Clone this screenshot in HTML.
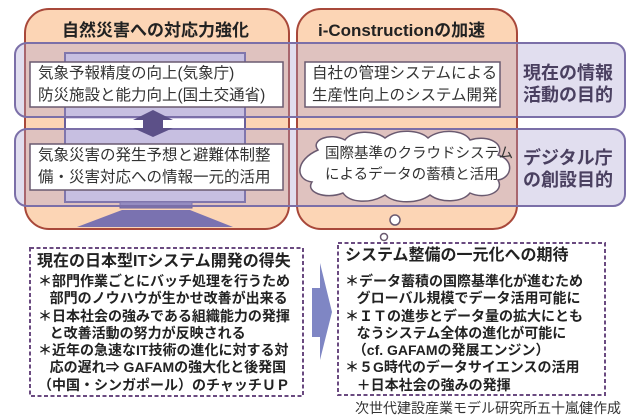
<!DOCTYPE html>
<html><head><meta charset="utf-8"><style>
body{margin:0;width:640px;height:419px;background:#fff;position:relative;overflow:hidden;font-family:"Liberation Sans","Noto Sans CJK JP",sans-serif;color:#222}
.a{position:absolute;white-space:nowrap}
.t{font-size:15.5px;line-height:22px;color:#333}
.d{font-size:14px;line-height:17.3px;font-weight:bold;color:#222}
.h{font-size:17px;font-weight:bold;color:#222}
.l{font-size:18px;line-height:22px;font-weight:bold;color:#4a4060}
</style></head><body>
<svg width="640" height="419" style="position:absolute;left:0;top:0">
<rect x="25" y="9" width="264" height="220" rx="24" fill="#fcd5b5" stroke="#a8483a" stroke-width="2"/>
<rect x="297" y="9" width="220" height="220" rx="24" fill="#fcd5b5" stroke="#a8483a" stroke-width="2"/>
<rect x="65" y="53" width="180" height="149" fill="#d7d0ea" stroke="#6a609a" stroke-width="2"/>
<rect x="120" y="202" width="72" height="6" fill="#8a82b8" stroke="#6a609a"/>
<polygon points="122,210 190,210 233,227 77,227" fill="#7a72b0"/>
<rect x="15" y="43" width="610" height="74" rx="12" fill="rgba(170,160,210,0.35)" stroke="#7b6fa8" stroke-width="2"/>
<rect x="15" y="129" width="610" height="77" rx="12" fill="rgba(170,160,210,0.35)" stroke="#7b6fa8" stroke-width="2"/>
<rect x="66" y="119" width="178" height="9" fill="#fff"/>
<polygon points="153,110 173,120 163,120 163,128 173,128 153,137 133,128 143,128 143,120 133,120" fill="#5c5088"/>
<rect x="30" y="62" width="253" height="45" fill="#fff" stroke="#6a5a70" stroke-width="1.5"/>
<rect x="30" y="144" width="253" height="46" fill="#fff" stroke="#6a5a70" stroke-width="1.5"/>
<rect x="305" y="62" width="195" height="45" fill="#fff" stroke="#6a5a70" stroke-width="1.5"/>
<path d="M318,150 C310,140 330,132 345,140 C352,130 375,130 385,138 C398,128 420,130 428,138 C440,128 465,130 470,140 C490,134 505,145 498,155 C515,160 512,178 498,180 C505,192 485,200 470,193 C462,203 440,203 430,195 C418,204 395,204 385,195 C370,204 350,203 343,193 C325,200 305,192 312,182 C295,180 295,160 318,150 Z" fill="#fff" stroke="#6a5a70" stroke-width="1.5"/>
<circle cx="395" cy="220" r="5" fill="#fff" stroke="#6a5a70" stroke-width="1.5"/>
<circle cx="384" cy="237" r="3.5" fill="#fff" stroke="#6a5a70" stroke-width="1.5"/>
<rect x="30" y="248" width="273" height="148" fill="#fff" stroke="#6a4a80" stroke-width="2" stroke-dasharray="4,2.5"/>
<rect x="338" y="243" width="267" height="152" fill="#fff" stroke="#6a4a80" stroke-width="2" stroke-dasharray="4,2.5"/>
<polygon points="312,288 320,288 320,263 332,312 320,360 320,337 312,337" fill="#7f86c4"/>
</svg>
<div class="a h" style="left:62px;top:16px">自然災害への対応力強化</div>
<div class="a h" style="left:318px;top:16px">i-Constructionの加速</div>
<div class="a t" style="left:38px;top:63px">気象予報精度の向上(気象庁)<br>防災施設と能力向上(国土交通省)</div>
<div class="a t" style="left:38px;top:145px">気象災害の発生予想と避難体制整<br>備・災害対応への情報一元的活用</div>
<div class="a t" style="left:312px;top:63px">自社の管理システムによる<br>生産性向上のシステム開発</div>
<div class="a t" style="left:325px;top:144px;font-size:14.5px;line-height:21px">国際基準のクラウドシステム<br>によるデータの蓄積と活用</div>
<div class="a l" style="left:523px;top:62px">現在の情報<br>活動の目的</div>
<div class="a l" style="left:523px;top:147px">デジタル庁<br>の創設目的</div>
<div class="a d" style="left:37px;top:253px;font-size:16px">現在の日本型ITシステム開発の得失</div>
<div class="a d" style="left:38px;top:273px">＊部門作業ごとにバッチ処理を行うため<br>&nbsp;&nbsp;&nbsp;部門のノウハウが生かせ改善が出来る<br>＊日本社会の強みである組織能力の発揮<br>&nbsp;&nbsp;&nbsp;と改善活動の努力が反映される<br>＊近年の急速なIT技術の進化に対する対<br>&nbsp;&nbsp;&nbsp;応の遅れ⇒ GAFAMの強大化と後発国<br>（中国・シンガポール）のチャッチＵＰ</div>
<div class="a d" style="left:345px;top:247px;font-size:16px">システム整備の一元化への期待</div>
<div class="a d" style="left:345px;top:273px">＊データ蓄積の国際基準化が進むため<br>&nbsp;&nbsp;&nbsp;グローバル規模でデータ活用可能に<br>＊ＩＴの進歩とデータ量の拡大にとも<br>&nbsp;&nbsp;&nbsp;なうシステム全体の進化が可能に<br>&nbsp;&nbsp;（cf. GAFAMの発展エンジン）<br>＊５G時代のデータサイエンスの活用<br>&nbsp;&nbsp;&nbsp;＋日本社会の強みの発揮</div>
<div class="a" style="left:355px;top:398px;font-size:14px;color:#333">次世代建設産業モデル研究所五十嵐健作成</div>
</body></html>
